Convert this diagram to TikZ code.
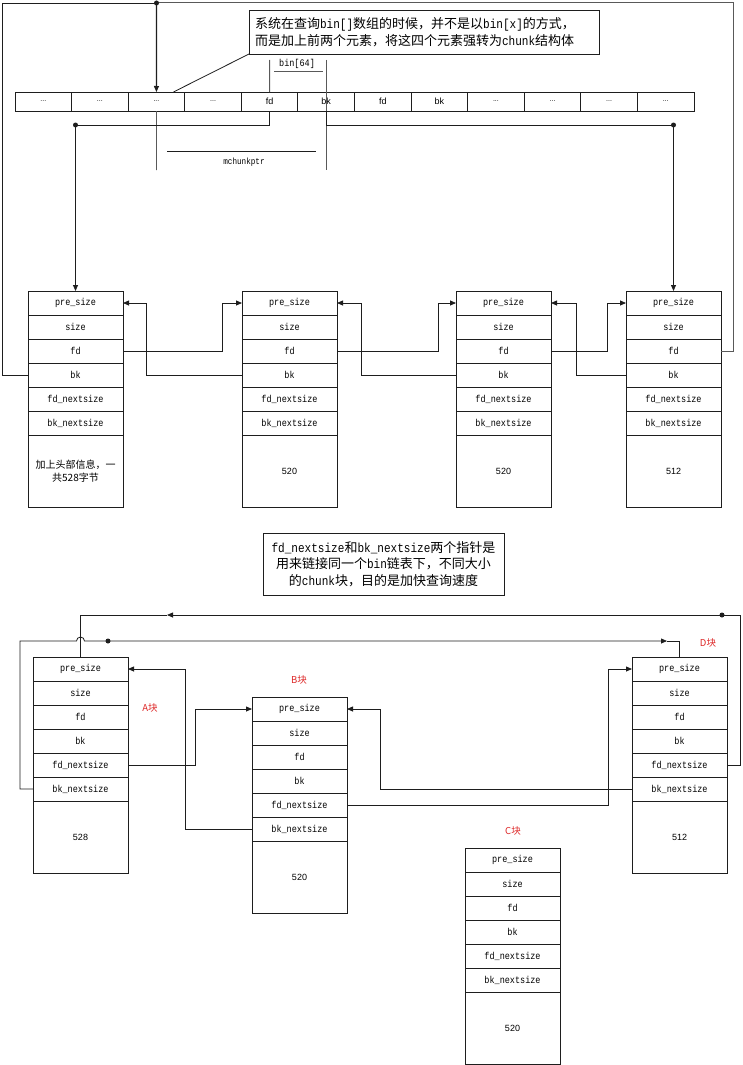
\documentclass[tikz,border=0pt]{standalone}
\usepackage{fontspec}
\setmainfont{Liberation Sans}
\newfontfamily\cjk{Noto Sans CJK SC}
\newfontfamily\lmono[FakeStretch=0.85]{Liberation Mono}
\usetikzlibrary{arrows.meta,calc}
\definecolor{redlab}{RGB}{222,40,40}
\definecolor{ln}{RGB}{30,30,30}
\newcommand\bindots{{\fontsize{7}{8}\selectfont ...}}
\tikzset{
  fld/.style={draw=ln, line width=0.9pt, minimum width=95, minimum height=24, inner sep=0pt, outer sep=0pt, font=\lmono\fontsize{10}{12}\selectfont},
  bincell/.style={draw=ln, line width=0.9pt, minimum width=56.58, minimum height=19, inner sep=0pt, outer sep=0pt, anchor=north west, font=\fontsize{9}{10}\selectfont},
  conn/.style={draw=ln, line width=0.8pt},
  arr/.style={conn, -{Triangle[length=6pt,width=5pt]}},
  guide/.style={draw=gray!70!black, line width=0.8pt},
  callout/.style={draw=ln, line width=0.9pt, inner sep=0pt, outer sep=0pt, anchor=north west},
  redtag/.style={text=redlab, font=\cjk\fontsize{9.5}{11}\selectfont},
  dot/.style={fill=ln}
}
\newcommand\mkchunk[5]{%
  \node[fld, anchor=north west] (#1ps) at (#2,#3) {pre\_size};
  \node[fld, anchor=north] (#1sz) at (#1ps.south) {size};
  \node[fld, anchor=north] (#1fd) at (#1sz.south) {fd};
  \node[fld, anchor=north] (#1bk) at (#1fd.south) {bk};
  \node[fld, anchor=north] (#1fn) at (#1bk.south) {fd\_nextsize};
  \node[fld, anchor=north] (#1bn) at (#1fn.south) {bk\_nextsize};
  \node[fld, anchor=north, minimum height=72, align=center, #5] (#1dt) at (#1bn.south) {#4};
}
\begin{document}
\begin{tikzpicture}[x=1pt,y=-1pt]
\path[fill=white,use as bounding box] (0,0) rectangle (742,1065);

% ---------------- top: bin array ----------------
\foreach \i/\t in {1/\bindots,2/\bindots,3/\bindots,4/\bindots,5/fd,6/bk,7/fd,8/bk,9/\bindots,10/\bindots,11/\bindots,12/\bindots}
  \node[bincell] (b\i) at ({15+(\i-1)*56.583},92) {\t};

% callout 1
\node[callout, minimum width=350, minimum height=44, text width=338, align=left,
      font=\lmono\fontsize{13}{17}\selectfont] (cb1) at (249,10)
  {{\cjk 系统在查询}bin[]{\cjk 数组的时候，并不是以}bin[x]{\cjk 的方式，}\\
   {\cjk 而是加上前两个元素，将这四个元素强转为}chunk{\cjk 结构体}};
\draw[conn] (cb1.south west) -- ([xshift=17pt]b3.north);

% bin[64] marks
\node[font=\lmono\fontsize{10}{12}\selectfont] (binlab) at (297,64) {bin[64]};
\draw[guide] (274,71) -- (323,71);
\draw[guide] (269.6,60) -- (b5.north);
\draw[guide] (326.2,60) -- (326.2,170);
\draw[guide] (b3.south) -- (156.5,170);
\draw[conn] (167,151) -- (316,151);
\node[font=\lmono\fontsize{9}{11}\selectfont] (mcp) at (244,162) {mchunkptr};

% ---------------- top chunks ----------------
\mkchunk{c1}{28}{291}{加上头部信息，一\\共528字节}{font=\cjk\fontsize{10}{13}\selectfont}
\mkchunk{c2}{242}{291}{520}{font=\fontsize{9}{11}\selectfont}
\mkchunk{c3}{456}{291}{520}{font=\fontsize{9}{11}\selectfont}
\mkchunk{c4}{626}{291}{512}{font=\fontsize{9}{11}\selectfont}

\coordinate (topdot) at (156.5,3);
\coordinate (dotL) at (75.5,125);
\coordinate (dotR) at (673.5,125);

\draw[conn, draw=gray!70!black, line width=1pt] (c4fd.east) -- ++(12,0) |- (topdot);
\draw[conn] (c1bk.west) -- ++(-26,0) |- (topdot);
\draw[arr, line width=1.1pt] (topdot) -- (b3.north);
\fill[dot] (topdot) circle[radius=2.5pt];

\draw[arr] (b5.south) |- (dotL) -- (c1ps.north);
\draw[arr] (b6.south) |- (dotR) -- (c4ps.north);
\fill[dot] (dotL) circle[radius=2.5pt];
\fill[dot] (dotR) circle[radius=2.5pt];

\draw[arr] (c1fd.east) -- ++(99,0) |- (c2ps.west);
\draw[arr] (c2bk.west) -- ++(-96,0) |- (c1ps.east);
\draw[arr] (c2fd.east) -- ++(101,0) |- (c3ps.west);
\draw[arr] (c3bk.west) -- ++(-95,0) |- (c2ps.east);
\draw[arr] (c3fd.east) -- ++(56,0) |- (c4ps.west);
\draw[arr] (c4bk.west) -- ++(-50,0) |- (c3ps.east);

% ---------------- bottom ----------------
\node[callout, minimum width=241, minimum height=62, align=center,
      font=\lmono\fontsize{13}{16.5}\selectfont] (cb2) at (263,533)
  {fd\_nextsize{\cjk 和}bk\_nextsize{\cjk 两个指针是}\\
   {\cjk 用来链接同一个}bin{\cjk 链表下，不同大小}\\
   {\cjk 的}chunk{\cjk 块，目的是加快查询速度}};

\mkchunk{A}{33}{657}{528}{font=\fontsize{9}{11}\selectfont}
\mkchunk{B}{252}{697}{520}{font=\fontsize{9}{11}\selectfont}
\mkchunk{D}{632}{657}{512}{font=\fontsize{9}{11}\selectfont}
\mkchunk{C}{465}{848}{520}{font=\fontsize{9}{11}\selectfont}

\node[redtag] (tagA) at (150,708) {A块};
\node[redtag] (tagB) at (299,680) {B块};
\node[redtag] (tagC) at (513,831) {C块};
\node[redtag] (tagD) at (708,643) {D块};

\draw[arr] (Afn.east) -- ++(67,0) |- (Bps.west);
\draw[arr] (Bbn.west) -- ++(-67,0) |- (Aps.east);
\draw[arr] (Bfn.east) -- ++(261,0) |- (Dps.west);
\draw[arr] (Dbn.west) -- ++(-252,0) |- (Bps.east);

\coordinate (mid1) at (167,615);
\coordinate (mid2) at (667,641);
\coordinate (hopc) at (Aps.north |- mid2);
\draw[arr] (Dfn.east) -- ++(13,0) |- (mid1);
\draw[conn] (mid1) -| (Aps.north);
\draw[arr] (Abn.west) -- ++(-13,0) |- ([xshift=-4pt]hopc) arc[start angle=180, end angle=0, radius=4pt] -- (mid2);
\draw[conn] (mid2) -| (Dps.north);
\fill[dot] (108,641) circle[radius=2.5pt];
\fill[dot] (722,615) circle[radius=2.5pt];
\end{tikzpicture}
\end{document}
